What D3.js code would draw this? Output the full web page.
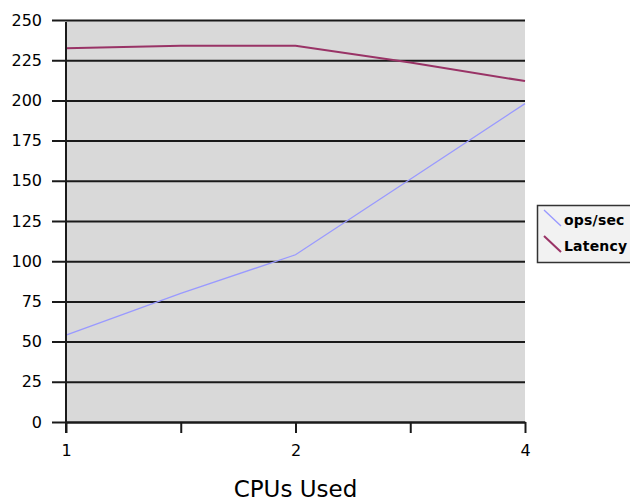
<!DOCTYPE html>
<html><head><meta charset="utf-8">
<script src="https://cdn.jsdelivr.net/npm/d3@7"></script>
<style>
body{margin:0;background:#fff;}
svg{display:block;}
text{font-family:"DejaVu Sans",sans-serif;fill:#000;}
</style></head>
<body><svg id="c" width="630" height="504"></svg>
<script>
const xTickLabels = ["1", "", "2", "", "4"];
const opsPerSec = [54, 80, 104, 151, 198];
const latency = [232.5, 234, 234, 223.5, 212];
const yTicks = [0, 25, 50, 75, 100, 125, 150, 175, 200, 225, 250];
const seriesNames = ["ops/sec", "Latency"];
const seriesColors = ["#9999ff", "#993366"];

const svg = d3.select("#c");
const L = 66, R = 525, T = 20, B = 422;
const x = d3.scalePoint().domain(d3.range(xTickLabels.length)).range([L, R]);
const y = d3.scaleLinear().domain([0, 250]).range([B, T]);

svg.append("rect").attr("x", L).attr("y", T).attr("width", R - L).attr("height", B - T).attr("fill", "#d9d9d9");

// y axis + gridlines
const ya = svg.append("g").attr("transform", `translate(${L},0)`)
  .call(d3.axisLeft(y).tickValues(yTicks).tickSize(-(R - L)).tickPadding(24));
ya.select(".domain").remove();
ya.selectAll(".tick line").attr("x1", -14).attr("stroke", "#1a1a1a").attr("stroke-width", 2);
ya.selectAll(".tick text").style("font-size", "16px");

// lines
const line = d3.line().x((d, i) => x(i)).y(d => y(d));
svg.append("path").datum(opsPerSec).attr("d", line).attr("fill", "none")
  .attr("stroke", seriesColors[0]).attr("stroke-width", 1.3);
svg.append("path").datum(latency).attr("d", line).attr("fill", "none")
  .attr("stroke", seriesColors[1]).attr("stroke-width", 2);

// x axis
const xa = svg.append("g").attr("transform", `translate(0,${B})`)
  .call(d3.axisBottom(x).tickFormat(i => xTickLabels[i]).tickSize(11).tickPadding(12).tickSizeOuter(0));
xa.select(".domain").attr("stroke", "#1a1a1a").attr("stroke-width", 2);
xa.selectAll(".tick line").attr("stroke", "#1a1a1a").attr("stroke-width", 2);
xa.selectAll(".tick text").style("font-size", "16px");

// left axis line
svg.append("line").attr("x1", L).attr("x2", L).attr("y1", T + 2).attr("y2", B + 11)
  .attr("stroke", "#1a1a1a").attr("stroke-width", 2);

// x title
svg.append("text").attr("x", (L + R) / 2).attr("y", 497).attr("text-anchor", "middle")
  .style("font-size", "23px").text("CPUs Used");

// legend
const lg = svg.append("g");
lg.append("rect").attr("x", 537.5).attr("y", 205.5).attr("width", 100).attr("height", 57)
  .attr("fill", "#f2f2f2").attr("stroke", "#333").attr("stroke-width", 1.5);
seriesNames.forEach((n, i) => {
  const yy = 210 + i * 26;
  lg.append("line").attr("x1", 544).attr("y1", yy).attr("x2", 561).attr("y2", yy + 16)
    .attr("stroke", seriesColors[i]).attr("stroke-width", i ? 2 : 1.3);
  lg.append("text").attr("x", 564).attr("y", yy + 15).style("font-size", "14px")
    .style("font-weight", "bold").style("letter-spacing", "0.2px").text(n);
});
</script></body></html>
